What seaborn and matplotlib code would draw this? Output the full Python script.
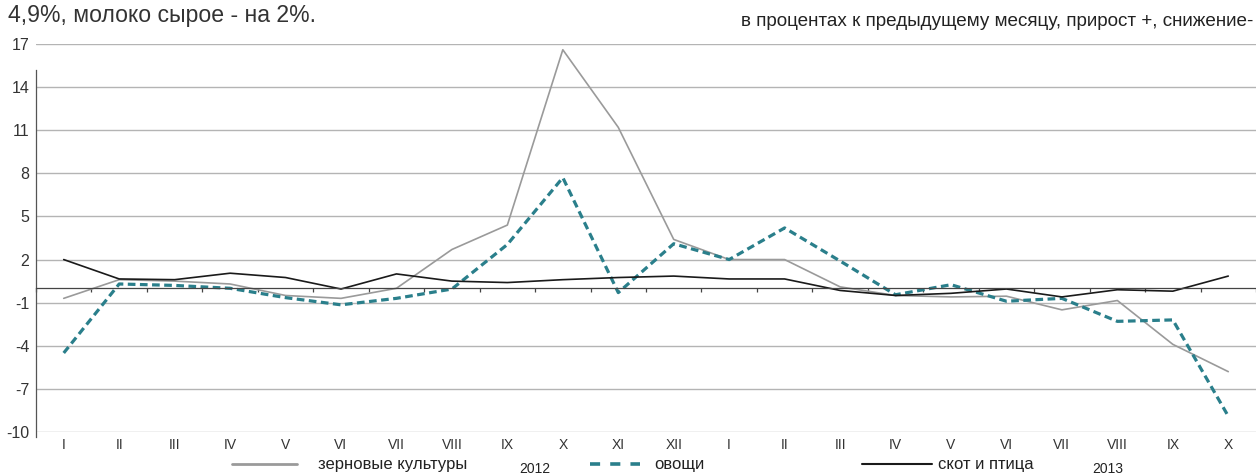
import numpy as np
import pandas as pd
import matplotlib
matplotlib.use('Agg')
import matplotlib.pyplot as plt
from matplotlib.lines import Line2D
import seaborn as sns

# month labels: I.2012 .. X.2013
months = ['I', 'II', 'III', 'IV', 'V', 'VI', 'VII', 'VIII', 'IX', 'X', 'XI', 'XII',
          'I', 'II', 'III', 'IV', 'V', 'VI', 'VII', 'VIII', 'IX', 'X']

grain = [-0.7, 0.6, 0.5, 0.3, -0.5, -0.7, 0.0, 2.7, 4.4, 16.6, 11.2, 3.4,
         2.0, 2.0, 0.1, -0.5, -0.6, -0.55, -1.5, -0.85, -3.9, -5.8]
vegetables = [-4.5, 0.3, 0.2, 0.0, -0.65, -1.15, -0.7, -0.05, 3.05, 7.7, -0.3, 3.1,
              2.0, 4.2, 1.9, -0.45, 0.25, -0.9, -0.7, -2.3, -2.2, -8.9]
livestock = [2.0, 0.65, 0.6, 1.05, 0.75, -0.05, 1.0, 0.5, 0.4, 0.6, 0.75, 0.85,
             0.65, 0.65, -0.15, -0.5, -0.35, -0.05, -0.6, -0.1, -0.2, 0.85]

series_names = ['зерновые культуры', 'овощи', 'скот и птица']
years = ['2012', '2013']
yticks = list(range(-10, 18, 3))

sns.set_style('white')
plt.rcParams['font.family'] = ['Liberation Sans', 'DejaVu Sans']

df = pd.DataFrame({'pos': np.arange(len(months)), 'grain': grain,
                   'veg': vegetables, 'live': livestock})

fig = plt.figure(figsize=(12.56, 4.76), dpi=100)
ax = fig.add_axes([36 / 1256, 44 / 476, 1220 / 1256, 388 / 476])

GRAY = '#9a9a9a'
TEAL = '#2a7f8b'
BLACK = '#1a1a1a'

sns.lineplot(data=df, x='pos', y='grain', ax=ax, color=GRAY, lw=1.2, legend=False)
sns.lineplot(data=df, x='pos', y='veg', ax=ax, color=TEAL, lw=2.3,
             linestyle=(0, (2.4, 1.4)), legend=False)
sns.lineplot(data=df, x='pos', y='live', ax=ax, color=BLACK, lw=1.2, legend=False)

ax.set_xlim(-0.5, len(months) - 0.5)
ax.set_ylim(-10, 17)
ax.set_xlabel('')
ax.set_ylabel('')

ax.set_yticks(yticks)
ax.set_yticklabels([str(v) for v in yticks])
ax.yaxis.grid(True, color='#b4b4b4', lw=1.0)
ax.set_axisbelow(True)

ax.set_xticks(np.arange(len(months)))
ax.set_xticklabels(months)
ax.set_xticks(np.arange(-0.5, len(months), 1), minor=True)
ax.tick_params(axis='x', which='major', length=0, pad=4, labelsize=10,
               labelcolor='#333333', bottom=True, top=False)
ax.tick_params(axis='x', which='minor', top=True, bottom=False, direction='in',
               length=2.6, width=0.9, color='#444444')
ax.tick_params(axis='y', length=3.8, width=0.9, color='#555555', pad=1,
               labelsize=11.5, labelcolor='#333333')

for s in ['right', 'bottom']:
    ax.spines[s].set_visible(False)
ax.spines['top'].set_position(('data', 0))
ax.spines['top'].set_color('#444444')
ax.spines['top'].set_linewidth(0.9)
ax.spines['left'].set_color('#555555')
ax.spines['left'].set_linewidth(0.9)
ax.spines['left'].set_bounds(-10.35, 15.2)

# legend, split into pieces like the original
def put_legend(handle, label, x, hl, pad):
    leg = fig.legend([handle], [label], loc='center left',
                     bbox_to_anchor=(x / 1256, 1 - 465 / 476), frameon=False,
                     borderpad=0, borderaxespad=0, handlelength=hl,
                     handletextpad=pad, fontsize=12, labelcolor='#222222')
    return leg

put_legend(Line2D([], [], color=GRAY, lw=2.0), series_names[0], 232, 3.9, 1.25)
put_legend(Line2D([], [], color=TEAL, lw=2.6, dashes=(2.8, 2.8)), series_names[1], 590, 3.0, 0.84)
put_legend(Line2D([], [], color=BLACK, lw=1.5), series_names[2], 862, 4.2, 0.36)

fig.text(535 / 1256, 1 - 469 / 476, years[0], ha='center', va='center',
         fontsize=10, color='#222222')
fig.text(1108 / 1256, 1 - 469 / 476, years[1], ha='center', va='center',
         fontsize=10, color='#222222')

fig.text(8 / 1256, 1 - 22 / 476, '4,9%, молоко сырое - на 2%.', ha='left',
         va='baseline', fontsize=16.6, color='#333333')
fig.text(1253 / 1256, 1 - 26 / 476,
         'в процентах к предыдущему месяцу, прирост +, снижение-',
         ha='right', va='baseline', fontsize=13.6, color='#222222')

fig.savefig('out.png', dpi=100)
